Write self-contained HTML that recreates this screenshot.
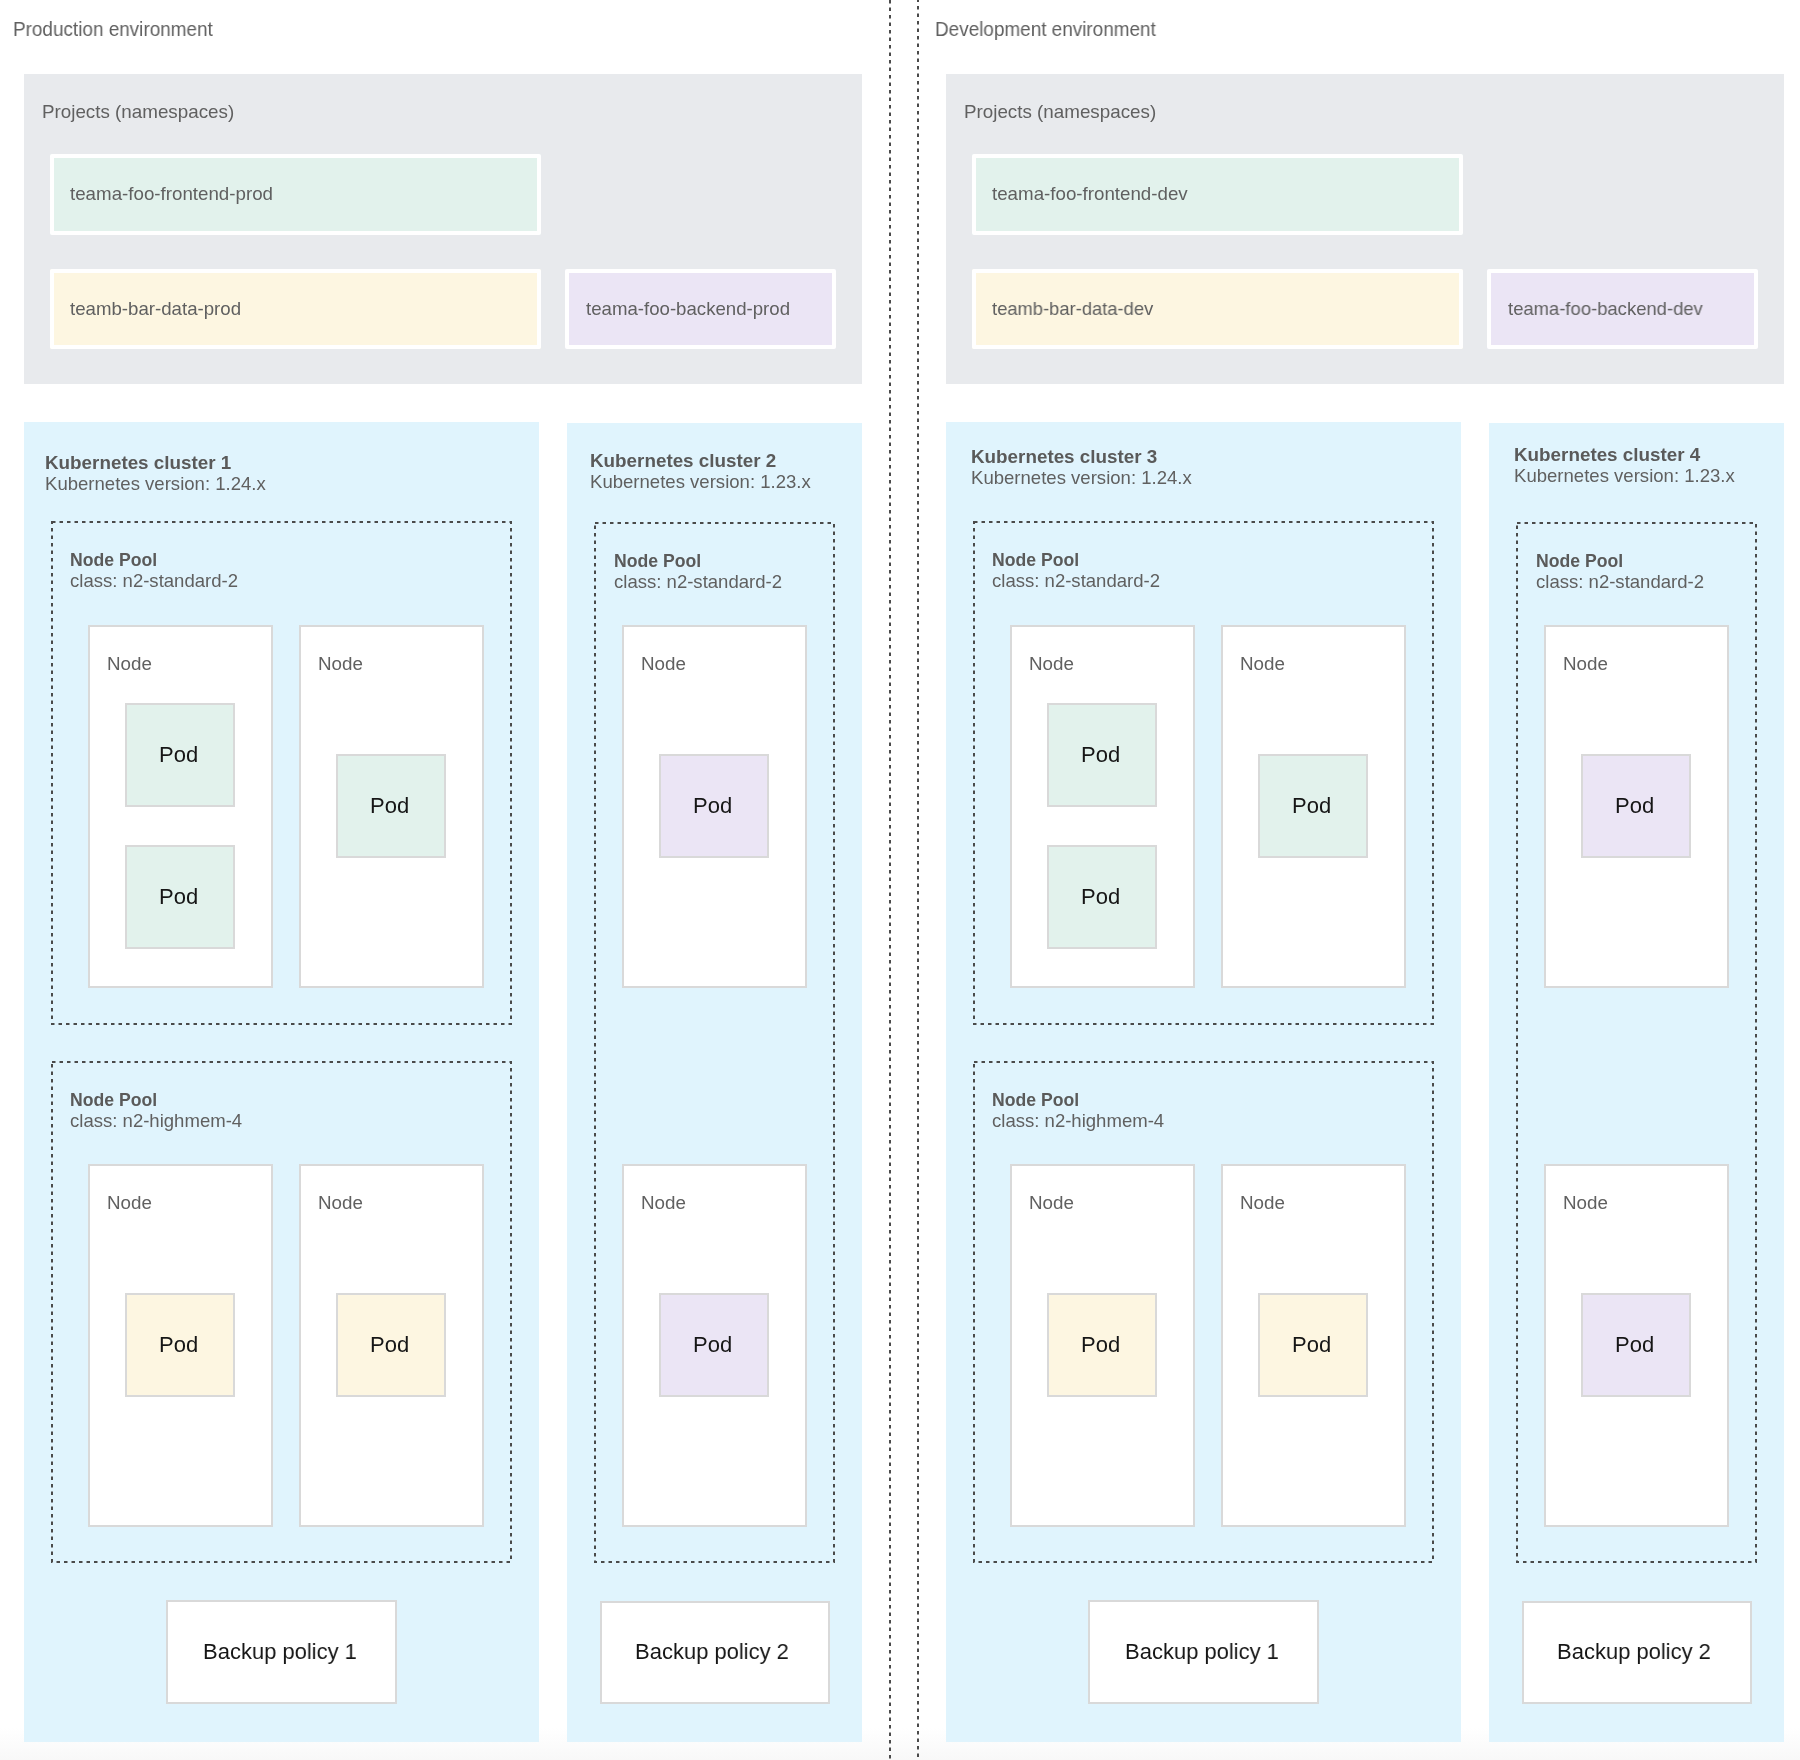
<!DOCTYPE html>
<html><head><meta charset="utf-8"><title>Production and development environments</title>
<style>
html,body{margin:0;padding:0;}
body{width:1800px;height:1760px;position:relative;overflow:hidden;background:#fff;font-family:"Liberation Sans", sans-serif;}
.a{position:absolute;box-sizing:border-box;}
.t{position:absolute;white-space:nowrap;line-height:1;transform-origin:0 0;will-change:transform;}
.strip{position:absolute;left:0;top:1728px;width:1800px;height:32px;background:linear-gradient(#ffffff,#f8f8f8);}
svg{position:absolute;left:0;top:0;}
svg rect,svg line{fill:none;stroke:#4a4a4a;stroke-width:2;stroke-dasharray:3.5 4;}
</style></head><body>
<div class="strip"></div>
<div class="t" style="left:13.20px;top:20.10px;font-size:19.5px;color:#606060;transform:scaleX(0.97);">Production environment</div>
<div class="a" style="left:24px;top:74px;width:838px;height:310px;background:#e8eaed;"></div>
<div class="t" style="left:42.40px;top:102.75px;font-size:18.6px;color:#606060;transform:scaleX(1.0107);">Projects (namespaces)</div>
<div class="a" style="left:50px;top:154px;width:491px;height:81px;background:#e2f2ec;box-shadow:inset 0 0 0 4px #ffffff;border-radius:2px;"></div>
<div class="t" style="left:70.40px;top:185.10px;font-size:18.6px;color:#606060;transform:scaleX(1.007);">teama-foo-frontend-prod</div>
<div class="a" style="left:50px;top:269px;width:491px;height:80px;background:#fdf6e1;box-shadow:inset 0 0 0 4px #ffffff;border-radius:2px;"></div>
<div class="t" style="left:70.40px;top:300.00px;font-size:18.6px;color:#606060;transform:scaleX(1.003);">teamb-bar-data-prod</div>
<div class="a" style="left:565px;top:269px;width:271px;height:80px;background:#ebe5f5;box-shadow:inset 0 0 0 4px #ffffff;border-radius:2px;"></div>
<div class="t" style="left:586.00px;top:299.80px;font-size:18.6px;color:#606060;transform:scaleX(1.002);">teama-foo-backend-prod</div>
<div class="a" style="left:24px;top:422px;width:515px;height:1320px;background:#e0f4fd;"></div>
<div class="a" style="left:567px;top:423px;width:295px;height:1319px;background:#e0f4fd;"></div>
<div class="t" style="left:45.40px;top:454.00px;font-size:18.7px;color:#5a5a5a;font-weight:700;transform:scaleX(1.0076);">Kubernetes cluster 1</div>
<div class="t" style="left:45.40px;top:474.80px;font-size:18.4px;color:#606060;transform:scaleX(1.0092);">Kubernetes version: 1.24.x</div>
<div class="t" style="left:589.70px;top:452.20px;font-size:18.7px;color:#5a5a5a;font-weight:700;transform:scaleX(1.0076);">Kubernetes cluster 2</div>
<div class="t" style="left:589.70px;top:472.70px;font-size:18.4px;color:#606060;transform:scaleX(1.0092);">Kubernetes version: 1.23.x</div>
<div class="t" style="left:70.20px;top:552.40px;font-size:17.6px;color:#5a5a5a;font-weight:700;transform:scaleX(1.0024);">Node Pool</div>
<div class="t" style="left:70.20px;top:572.00px;font-size:18.4px;color:#606060;transform:scaleX(1.0085);">class: n2-standard-2</div>
<div class="t" style="left:70.20px;top:1092.00px;font-size:17.6px;color:#5a5a5a;font-weight:700;transform:scaleX(1.0024);">Node Pool</div>
<div class="t" style="left:70.20px;top:1111.50px;font-size:18.4px;color:#606060;transform:scaleX(1.0085);">class: n2-highmem-4</div>
<div class="t" style="left:613.60px;top:553.30px;font-size:17.6px;color:#5a5a5a;font-weight:700;transform:scaleX(1.0024);">Node Pool</div>
<div class="t" style="left:613.60px;top:572.70px;font-size:18.4px;color:#606060;transform:scaleX(1.0085);">class: n2-standard-2</div>
<div class="a" style="left:88px;top:625px;width:185px;height:363px;background:#ffffff;box-shadow:inset 0 0 0 2px #d9d9d9;"></div>
<div class="t" style="left:106.70px;top:654.80px;font-size:18.8px;color:#606060;">Node</div>
<div class="a" style="left:125px;top:703px;width:110px;height:104px;background:#e2f2ec;box-shadow:inset 0 0 0 2px #d9d9d9;"></div>
<div class="t" style="left:159.00px;top:743.70px;font-size:22.0px;color:#161616;">Pod</div>
<div class="a" style="left:125px;top:845px;width:110px;height:104px;background:#e2f2ec;box-shadow:inset 0 0 0 2px #d9d9d9;"></div>
<div class="t" style="left:159.00px;top:885.70px;font-size:22.0px;color:#161616;">Pod</div>
<div class="a" style="left:299px;top:625px;width:185px;height:363px;background:#ffffff;box-shadow:inset 0 0 0 2px #d9d9d9;"></div>
<div class="t" style="left:317.70px;top:654.80px;font-size:18.8px;color:#606060;">Node</div>
<div class="a" style="left:336px;top:754px;width:110px;height:104px;background:#e2f2ec;box-shadow:inset 0 0 0 2px #d9d9d9;"></div>
<div class="t" style="left:370.00px;top:794.70px;font-size:22.0px;color:#161616;">Pod</div>
<div class="a" style="left:88px;top:1164px;width:185px;height:363px;background:#ffffff;box-shadow:inset 0 0 0 2px #d9d9d9;"></div>
<div class="t" style="left:106.70px;top:1193.80px;font-size:18.8px;color:#606060;">Node</div>
<div class="a" style="left:125px;top:1293px;width:110px;height:104px;background:#fdf6e1;box-shadow:inset 0 0 0 2px #d9d9d9;"></div>
<div class="t" style="left:159.00px;top:1333.70px;font-size:22.0px;color:#161616;">Pod</div>
<div class="a" style="left:299px;top:1164px;width:185px;height:363px;background:#ffffff;box-shadow:inset 0 0 0 2px #d9d9d9;"></div>
<div class="t" style="left:317.70px;top:1193.80px;font-size:18.8px;color:#606060;">Node</div>
<div class="a" style="left:336px;top:1293px;width:110px;height:104px;background:#fdf6e1;box-shadow:inset 0 0 0 2px #d9d9d9;"></div>
<div class="t" style="left:370.00px;top:1333.70px;font-size:22.0px;color:#161616;">Pod</div>
<div class="a" style="left:622px;top:625px;width:185px;height:363px;background:#ffffff;box-shadow:inset 0 0 0 2px #d9d9d9;"></div>
<div class="t" style="left:640.70px;top:654.80px;font-size:18.8px;color:#606060;">Node</div>
<div class="a" style="left:659px;top:754px;width:110px;height:104px;background:#ebe5f5;box-shadow:inset 0 0 0 2px #d9d9d9;"></div>
<div class="t" style="left:693.00px;top:794.70px;font-size:22.0px;color:#161616;">Pod</div>
<div class="a" style="left:622px;top:1164px;width:185px;height:363px;background:#ffffff;box-shadow:inset 0 0 0 2px #d9d9d9;"></div>
<div class="t" style="left:640.70px;top:1193.80px;font-size:18.8px;color:#606060;">Node</div>
<div class="a" style="left:659px;top:1293px;width:110px;height:104px;background:#ebe5f5;box-shadow:inset 0 0 0 2px #d9d9d9;"></div>
<div class="t" style="left:693.00px;top:1333.70px;font-size:22.0px;color:#161616;">Pod</div>
<div class="a" style="left:166px;top:1600px;width:231px;height:104px;background:#ffffff;box-shadow:inset 0 0 0 2px #d9d9d9;"></div>
<div class="t" style="left:202.60px;top:1640.50px;font-size:22.0px;color:#161616;transform:scaleX(0.9987);">Backup policy 1</div>
<div class="a" style="left:600px;top:1601px;width:230px;height:103px;background:#ffffff;box-shadow:inset 0 0 0 2px #d9d9d9;"></div>
<div class="t" style="left:634.80px;top:1641.00px;font-size:22.0px;color:#161616;transform:scaleX(0.9987);">Backup policy 2</div>
<div class="t" style="left:935.20px;top:19.60px;font-size:19.5px;color:#606060;transform:scaleX(0.97);">Development environment</div>
<div class="a" style="left:946px;top:74px;width:838px;height:310px;background:#e8eaed;"></div>
<div class="t" style="left:964.40px;top:102.75px;font-size:18.6px;color:#606060;transform:scaleX(1.0107);">Projects (namespaces)</div>
<div class="a" style="left:972px;top:154px;width:491px;height:81px;background:#e2f2ec;box-shadow:inset 0 0 0 4px #ffffff;border-radius:2px;"></div>
<div class="t" style="left:992.40px;top:185.10px;font-size:18.6px;color:#606060;transform:scaleX(1.007);">teama-foo-frontend-dev</div>
<div class="a" style="left:972px;top:269px;width:491px;height:80px;background:#fdf6e1;box-shadow:inset 0 0 0 4px #ffffff;border-radius:2px;"></div>
<div class="t" style="left:992.40px;top:300.00px;font-size:18.6px;color:#606060;transform:scaleX(0.9874);">teamb-bar-data-dev</div>
<div class="a" style="left:1487px;top:269px;width:271px;height:80px;background:#ebe5f5;box-shadow:inset 0 0 0 4px #ffffff;border-radius:2px;"></div>
<div class="t" style="left:1508.00px;top:299.80px;font-size:18.6px;color:#606060;transform:scaleX(0.9919);">teama-foo-backend-dev</div>
<div class="a" style="left:946px;top:422px;width:515px;height:1320px;background:#e0f4fd;"></div>
<div class="a" style="left:1489px;top:423px;width:295px;height:1319px;background:#e0f4fd;"></div>
<div class="t" style="left:970.80px;top:448.20px;font-size:18.7px;color:#5a5a5a;font-weight:700;transform:scaleX(1.0076);">Kubernetes cluster 3</div>
<div class="t" style="left:970.80px;top:469.00px;font-size:18.4px;color:#606060;transform:scaleX(1.0092);">Kubernetes version: 1.24.x</div>
<div class="t" style="left:1514.00px;top:446.00px;font-size:18.7px;color:#5a5a5a;font-weight:700;transform:scaleX(1.0076);">Kubernetes cluster 4</div>
<div class="t" style="left:1514.00px;top:466.80px;font-size:18.4px;color:#606060;transform:scaleX(1.0092);">Kubernetes version: 1.23.x</div>
<div class="t" style="left:992.20px;top:552.40px;font-size:17.6px;color:#5a5a5a;font-weight:700;transform:scaleX(1.0024);">Node Pool</div>
<div class="t" style="left:992.20px;top:572.00px;font-size:18.4px;color:#606060;transform:scaleX(1.0085);">class: n2-standard-2</div>
<div class="t" style="left:992.20px;top:1092.00px;font-size:17.6px;color:#5a5a5a;font-weight:700;transform:scaleX(1.0024);">Node Pool</div>
<div class="t" style="left:992.20px;top:1111.50px;font-size:18.4px;color:#606060;transform:scaleX(1.0085);">class: n2-highmem-4</div>
<div class="t" style="left:1535.60px;top:553.30px;font-size:17.6px;color:#5a5a5a;font-weight:700;transform:scaleX(1.0024);">Node Pool</div>
<div class="t" style="left:1535.60px;top:572.70px;font-size:18.4px;color:#606060;transform:scaleX(1.0085);">class: n2-standard-2</div>
<div class="a" style="left:1010px;top:625px;width:185px;height:363px;background:#ffffff;box-shadow:inset 0 0 0 2px #d9d9d9;"></div>
<div class="t" style="left:1028.70px;top:654.80px;font-size:18.8px;color:#606060;">Node</div>
<div class="a" style="left:1047px;top:703px;width:110px;height:104px;background:#e2f2ec;box-shadow:inset 0 0 0 2px #d9d9d9;"></div>
<div class="t" style="left:1081.00px;top:743.70px;font-size:22.0px;color:#161616;">Pod</div>
<div class="a" style="left:1047px;top:845px;width:110px;height:104px;background:#e2f2ec;box-shadow:inset 0 0 0 2px #d9d9d9;"></div>
<div class="t" style="left:1081.00px;top:885.70px;font-size:22.0px;color:#161616;">Pod</div>
<div class="a" style="left:1221px;top:625px;width:185px;height:363px;background:#ffffff;box-shadow:inset 0 0 0 2px #d9d9d9;"></div>
<div class="t" style="left:1239.70px;top:654.80px;font-size:18.8px;color:#606060;">Node</div>
<div class="a" style="left:1258px;top:754px;width:110px;height:104px;background:#e2f2ec;box-shadow:inset 0 0 0 2px #d9d9d9;"></div>
<div class="t" style="left:1292.00px;top:794.70px;font-size:22.0px;color:#161616;">Pod</div>
<div class="a" style="left:1010px;top:1164px;width:185px;height:363px;background:#ffffff;box-shadow:inset 0 0 0 2px #d9d9d9;"></div>
<div class="t" style="left:1028.70px;top:1193.80px;font-size:18.8px;color:#606060;">Node</div>
<div class="a" style="left:1047px;top:1293px;width:110px;height:104px;background:#fdf6e1;box-shadow:inset 0 0 0 2px #d9d9d9;"></div>
<div class="t" style="left:1081.00px;top:1333.70px;font-size:22.0px;color:#161616;">Pod</div>
<div class="a" style="left:1221px;top:1164px;width:185px;height:363px;background:#ffffff;box-shadow:inset 0 0 0 2px #d9d9d9;"></div>
<div class="t" style="left:1239.70px;top:1193.80px;font-size:18.8px;color:#606060;">Node</div>
<div class="a" style="left:1258px;top:1293px;width:110px;height:104px;background:#fdf6e1;box-shadow:inset 0 0 0 2px #d9d9d9;"></div>
<div class="t" style="left:1292.00px;top:1333.70px;font-size:22.0px;color:#161616;">Pod</div>
<div class="a" style="left:1544px;top:625px;width:185px;height:363px;background:#ffffff;box-shadow:inset 0 0 0 2px #d9d9d9;"></div>
<div class="t" style="left:1562.70px;top:654.80px;font-size:18.8px;color:#606060;">Node</div>
<div class="a" style="left:1581px;top:754px;width:110px;height:104px;background:#ebe5f5;box-shadow:inset 0 0 0 2px #d9d9d9;"></div>
<div class="t" style="left:1615.00px;top:794.70px;font-size:22.0px;color:#161616;">Pod</div>
<div class="a" style="left:1544px;top:1164px;width:185px;height:363px;background:#ffffff;box-shadow:inset 0 0 0 2px #d9d9d9;"></div>
<div class="t" style="left:1562.70px;top:1193.80px;font-size:18.8px;color:#606060;">Node</div>
<div class="a" style="left:1581px;top:1293px;width:110px;height:104px;background:#ebe5f5;box-shadow:inset 0 0 0 2px #d9d9d9;"></div>
<div class="t" style="left:1615.00px;top:1333.70px;font-size:22.0px;color:#161616;">Pod</div>
<div class="a" style="left:1088px;top:1600px;width:231px;height:104px;background:#ffffff;box-shadow:inset 0 0 0 2px #d9d9d9;"></div>
<div class="t" style="left:1124.60px;top:1640.50px;font-size:22.0px;color:#161616;transform:scaleX(0.9987);">Backup policy 1</div>
<div class="a" style="left:1522px;top:1601px;width:230px;height:103px;background:#ffffff;box-shadow:inset 0 0 0 2px #d9d9d9;"></div>
<div class="t" style="left:1556.80px;top:1641.00px;font-size:22.0px;color:#161616;transform:scaleX(0.9987);">Backup policy 2</div>
<svg width="1800" height="1760" viewBox="0 0 1800 1760"><rect x="52" y="522" width="459" height="502"/><rect x="52" y="1062" width="459" height="500"/><rect x="595" y="523" width="239" height="1039"/><rect x="974" y="522" width="459" height="502"/><rect x="974" y="1062" width="459" height="500"/><rect x="1517" y="523" width="239" height="1039"/><line x1="890" y1="0" x2="890" y2="1760" stroke-dashoffset="0"/><line x1="918" y1="-1.5" x2="918" y2="1760"/></svg>
</body></html>
